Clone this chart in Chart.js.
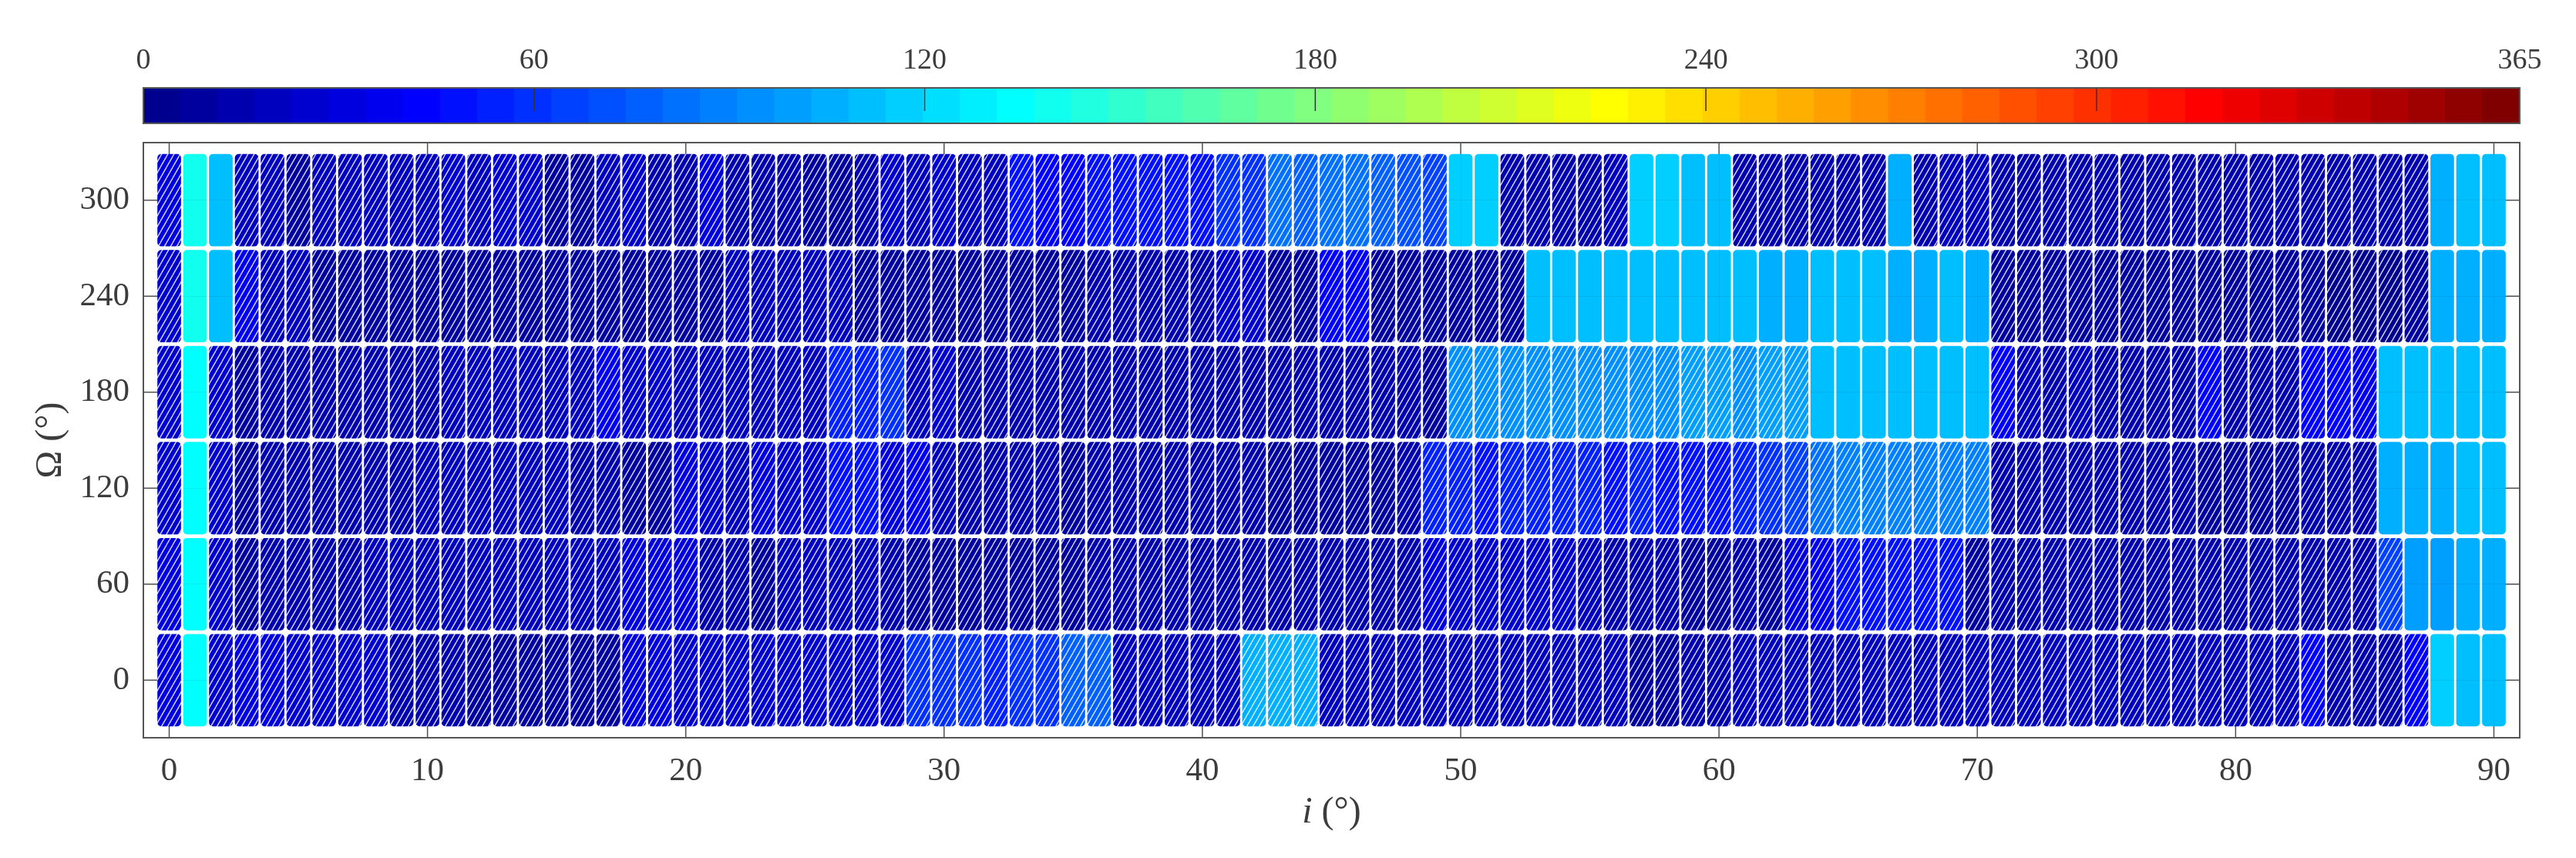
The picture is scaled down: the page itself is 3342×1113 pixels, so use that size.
<!DOCTYPE html>
<html>
<head>
<meta charset="utf-8">
<title>Chart</title>
<script src="https://cdn.jsdelivr.net/npm/chart.js@4"></script>
<style>
  html, body { margin: 0; padding: 0; background: #fff; }
  canvas { position: absolute; left: 0; }
  #colorbar { top: 0; }
  #cells { top: 175px; }
</style>
</head>
<body>
<canvas id="colorbar" width="3342" height="175"></canvas>
<canvas id="cells" width="3342" height="938"></canvas>
<script>
// colour scale
const colorbarMax = 365;
const colorbarTicks = [0, 60, 120, 180, 240, 300, 365];
const jetColors = [
  '#00008F','#00009F','#0000AF','#0000BF','#0000CF','#0000DF','#0000EF','#0000FF',
  '#0010FF','#0020FF','#0030FF','#0040FF','#0050FF','#0060FF','#0070FF','#0080FF',
  '#008FFF','#009FFF','#00AFFF','#00BFFF','#00CFFF','#00DFFF','#00EFFF','#00FFFF',
  '#10FFEF','#20FFDF','#30FFCF','#40FFBF','#50FFAF','#60FF9F','#70FF8F','#80FF80',
  '#8FFF70','#9FFF60','#AFFF50','#BFFF40','#CFFF30','#DFFF20','#EFFF10','#FFFF00',
  '#FFEF00','#FFDF00','#FFCF00','#FFBF00','#FFAF00','#FF9F00','#FF8F00','#FF8000',
  '#FF7000','#FF6000','#FF5000','#FF4000','#FF3000','#FF2000','#FF1000','#FF0000',
  '#EF0000','#DF0000','#CF0000','#BF0000','#AF0000','#9F0000','#8F0000','#800000'
];

// axes
const iTicks = [0, 10, 20, 30, 40, 50, 60, 70, 80, 90];
const omegaTicks = [0, 60, 120, 180, 240, 300];

// one value per inclination 0..90
const row300 = [
  30,140,110,22,22,8,18,20,22,22,
  22,24,22,24,28,8,10,22,28,14,
  12,32,14,14,14,10,8,16,24,22,
  24,22,22,48,42,44,48,48,46,48,
  48,58,60,82,78,84,80,78,72,68,
  118,118,15,12,15,12,18,118,118,110,
  110,15,14,14,12,14,16,105,14,18,
  18,14,14,14,14,14,14,14,14,14,
  14,14,14,14,14,14,14,14,105,110,110
];
const row240 = [
  26,140,110,38,20,22,10,10,8,8,
  8,8,8,8,10,8,8,8,8,8,
  8,8,22,20,20,20,18,8,6,6,
  8,6,6,8,8,8,12,12,12,12,
  14,26,28,8,8,42,44,8,6,6,
  6,6,8,110,110,110,110,110,110,110,
  110,110,105,105,110,110,110,105,105,110,
  105,8,8,8,8,8,8,8,8,8,
  8,8,8,8,5,5,5,8,105,105,105
];
const row180 = [
  24,136,26,10,14,14,12,14,14,14,
  16,18,18,18,18,20,20,36,28,24,
  22,22,22,22,20,20,55,55,60,20,
  24,16,16,14,14,14,14,14,14,14,
  14,14,14,14,14,14,14,14,14,10,
  96,94,92,92,94,92,96,92,96,98,
  98,94,98,100,110,110,110,110,110,110,
  110,42,18,16,18,16,16,16,16,44,
  12,12,14,42,44,38,110,110,110,110,110
];
const row120 = [
  28,136,28,10,12,14,12,14,16,16,
  18,18,18,18,18,18,16,14,10,10,
  34,28,20,30,26,26,48,46,30,36,
  18,14,12,12,14,10,12,12,12,12,
  14,14,14,10,10,10,10,10,16,56,
  52,50,56,52,54,52,50,52,50,48,
  48,56,62,64,80,90,86,88,90,88,
  88,14,14,14,14,14,14,14,14,8,
  8,8,8,14,16,16,105,105,105,110,110
];
const row60 = [
  30,136,26,10,12,14,14,16,18,18,
  18,20,20,20,20,18,18,18,30,32,
  30,12,12,10,22,22,22,22,14,10,
  10,8,8,10,10,10,12,12,12,12,
  14,14,14,14,14,14,14,14,12,30,
  28,26,26,28,26,20,12,12,14,8,
  10,12,10,32,36,46,48,48,46,48,
  10,14,14,14,14,14,14,14,14,14,
  14,14,14,14,14,14,66,100,100,105,105
];
const row0 = [
  34,136,28,30,30,28,26,26,26,16,
  14,12,10,10,10,10,10,10,30,30,
  28,28,26,26,26,26,26,26,26,58,
  58,58,56,58,60,78,76,20,20,20,
  22,22,105,105,105,22,22,22,20,22,
  20,20,22,22,22,22,22,6,6,14,
  16,20,20,20,20,20,20,20,20,20,
  20,20,20,20,20,20,20,20,20,20,
  20,20,20,44,16,14,14,44,118,110,112
];

// inclinations whose cell has no hatching
const solid300 = [1,2,50,51,57,58,59,60,67,88,89,90];
const solid240 = [1,2,53,54,55,56,57,58,59,60,61,62,63,64,65,66,67,68,69,70,88,89,90];
const solid180 = [1,64,65,66,67,68,69,70,86,87,88,89,90];
const solid120 = [1,86,87,88,89,90];
const solid60 = [1,87,88,89,90];
const solid0 = [1,88,89,90];

const rows = [
  {omega: 0, values: row0, solid: solid0},
  {omega: 60, values: row60, solid: solid60},
  {omega: 120, values: row120, solid: solid120},
  {omega: 180, values: row180, solid: solid180},
  {omega: 240, values: row240, solid: solid240},
  {omega: 300, values: row300, solid: solid300}
];

const halfCell = 28.7;
const serif = '"Liberation Serif", "Times New Roman", serif';
const textColor = '#3c3c3c';
const lineColor = '#555';

function colorOf(v) {
  let k = Math.floor(v / colorbarMax * jetColors.length);
  return jetColors[Math.min(k, jetColors.length - 1)];
}

// diagonal white stripes on top of the cell colour
let hatchCache = {};
function hatch(color) {
  if (hatchCache[color]) return hatchCache[color];
  const w = 8, h = 14;
  const c = document.createElement('canvas');
  c.width = w;
  c.height = h;
  const g = c.getContext('2d');
  g.fillStyle = color;
  g.fillRect(0, 0, w, h);
  g.strokeStyle = 'rgba(255,255,255,0.85)';
  g.lineWidth = 1.4;
  for (let dx = -w; dx <= w; dx += w) {
    g.beginPath();
    g.moveTo(dx, h);
    g.lineTo(dx + w, 0);
    g.stroke();
  }
  hatchCache[color] = g.createPattern(c, 'repeat');
  return hatchCache[color];
}

const setTicks = (list) => (scale) => { scale.ticks = list.map(v => ({value: v})); };

function line(ctx, x1, y1, x2, y2) {
  ctx.beginPath();
  ctx.moveTo(x1, y1);
  ctx.lineTo(x2, y2);
  ctx.stroke();
}

function drawFrame(chart) {
  const {ctx, chartArea: a} = chart;
  ctx.save();
  ctx.strokeStyle = lineColor;
  ctx.lineWidth = 2;
  ctx.strokeRect(a.left, a.top, a.right - a.left, a.bottom - a.top);
  ctx.restore();
}

// ticks point inwards on all four sides and sit under the cells
const insideTicks = {
  id: 'insideTicks',
  beforeDatasetsDraw(chart) {
    const {ctx, chartArea: a, scales} = chart;
    ctx.save();
    ctx.strokeStyle = lineColor;
    ctx.lineWidth = 1.5;
    for (const t of scales.x.ticks) {
      const x = scales.x.getPixelForValue(t.value);
      line(ctx, x, a.top, x, a.top + 30);
      line(ctx, x, a.bottom, x, a.bottom - 30);
    }
    for (const t of scales.y.ticks) {
      const y = scales.y.getPixelForValue(t.value);
      line(ctx, a.left, y, a.left + 30, y);
      line(ctx, a.right, y, a.right - 30, y);
    }
    ctx.restore();
  },
  afterDraw: drawFrame
};

// axis titles have an italic i, which a scale title can't do
const axisTitles = {
  id: 'axisTitles',
  afterDraw(chart) {
    const {ctx, chartArea: a} = chart;
    ctx.save();
    ctx.fillStyle = textColor;
    ctx.textBaseline = 'middle';
    ctx.textAlign = 'left';
    ctx.font = 'italic 48px ' + serif;
    const iw = ctx.measureText('i').width;
    ctx.font = '48px ' + serif;
    const rest = ' (°)';
    const rw = ctx.measureText(rest).width;
    const xStart = (a.left + a.right) / 2 - (iw + rw) / 2;
    ctx.font = 'italic 48px ' + serif;
    ctx.fillText('i', xStart, 879);
    ctx.font = '48px ' + serif;
    ctx.fillText(rest, xStart + iw, 879);
    ctx.translate(66, (a.top + a.bottom) / 2);
    ctx.rotate(-Math.PI / 2);
    ctx.textAlign = 'center';
    ctx.fillText('Ω (°)', 0, 0);
    ctx.restore();
  }
};

new Chart(document.getElementById('cells'), {
  type: 'bar',
  data: {
    datasets: rows.map(r => ({
      label: 'Ω = ' + r.omega,
      data: r.values.map((v, i) => ({x: i, y: [r.omega - halfCell, r.omega + halfCell]})),
      backgroundColor: r.values.map((v, i) => r.solid.includes(i) ? colorOf(v) : hatch(colorOf(v))),
      borderWidth: 0,
      borderRadius: 5,
      borderSkipped: false,
      barThickness: 30,
      grouped: false
    }))
  },
  options: {
    responsive: false,
    animation: false,
    layout: {padding: {top: 10, right: 73, left: 0, bottom: 0}},
    plugins: {legend: {display: false}, tooltip: {enabled: false}},
    scales: {
      x: {
        type: 'linear',
        min: -1,
        max: 91,
        offset: false,
        afterBuildTicks: setTicks(iTicks),
        afterFit: (s) => { s.height = 156; s.paddingLeft = 0; s.paddingRight = 0; },
        grid: {offset: false, color: 'rgba(0,0,0,0.07)', z: 1, drawTicks: false},
        border: {display: false},
        ticks: {
          autoSkip: false,
          maxRotation: 0,
          padding: 18,
          color: textColor,
          font: {family: serif, size: 43}
        }
      },
      y: {
        min: -36,
        max: 336,
        afterBuildTicks: setTicks(omegaTicks),
        afterFit: (s) => { s.width = 186; s.paddingTop = 0; s.paddingBottom = 0; },
        grid: {color: 'rgba(0,0,0,0.07)', z: 1, drawTicks: false},
        border: {display: false},
        ticks: {
          padding: 18,
          color: textColor,
          font: {family: serif, size: 43}
        }
      }
    }
  },
  plugins: [insideTicks, axisTitles]
});

// colour bar, same x extent as the axes above
const binWidth = colorbarMax / jetColors.length;
new Chart(document.getElementById('colorbar'), {
  type: 'bar',
  data: {
    datasets: [{
      label: 'colour scale',
      data: jetColors.map((c, k) => ({x: (k + 0.5) * binWidth, y: 1})),
      backgroundColor: jetColors,
      borderWidth: 0,
      barPercentage: 1,
      categoryPercentage: 1,
      inflateAmount: 0.5
    }]
  },
  options: {
    responsive: false,
    animation: false,
    layout: {padding: {top: 0, right: 73, left: 186, bottom: 15}},
    plugins: {legend: {display: false}, tooltip: {enabled: false}},
    scales: {
      x: {
        type: 'linear',
        position: 'top',
        min: 0,
        max: colorbarMax,
        offset: false,
        afterBuildTicks: setTicks(colorbarTicks),
        afterFit: (s) => { s.height = 114; s.paddingLeft = 0; s.paddingRight = 0; },
        grid: {display: false, offset: false},
        border: {display: false},
        ticks: {
          autoSkip: false,
          maxRotation: 0,
          padding: 4,
          color: textColor,
          font: {family: serif, size: 38}
        }
      },
      y: {display: false, min: 0, max: 1}
    }
  },
  plugins: [{
    id: 'barTicks',
    afterDatasetsDraw(chart) {
      const {ctx, chartArea: a, scales} = chart;
      ctx.save();
      ctx.strokeStyle = '#333';
      ctx.lineWidth = 1.5;
      for (const t of scales.x.ticks) {
        if (t.value === 0 || t.value === colorbarMax) continue;
        const x = scales.x.getPixelForValue(t.value);
        line(ctx, x, a.top, x, a.top + 30);
      }
      ctx.restore();
    },
    afterDraw: drawFrame
  }]
});
</script>
</body>
</html>
